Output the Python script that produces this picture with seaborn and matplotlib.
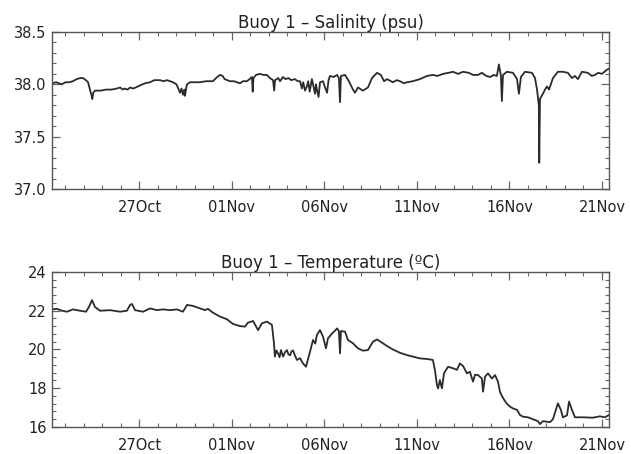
import numpy as np
import pandas as pd
import matplotlib
matplotlib.use("Agg")
import matplotlib.pyplot as plt
import matplotlib.dates as mdates
from matplotlib.ticker import MultipleLocator, FormatStrFormatter
import seaborn as sns

# ---- data: (days since 22 Oct 00:00, value) ----
salinity_points = [
    (0.27, 38.01), (0.5, 38.02), (0.8, 38.00), (1.0, 38.02), (1.2, 38.02), (1.4, 38.03),
    (1.6, 38.05), (1.8, 38.06), (1.95, 38.06), (2.1, 38.04), (2.22, 38.02), (2.32, 37.95),
    (2.40, 37.90), (2.45, 37.86), (2.50, 37.92), (2.60, 37.94), (2.9, 37.94), (3.2, 37.95),
    (3.5, 37.95), (3.78, 37.96), (3.95, 37.97), (4.1, 37.95), (4.2, 37.96), (4.35, 37.95),
    (4.5, 37.97), (4.65, 37.96), (4.8, 37.97), (5.03, 37.99), (5.3, 38.01), (5.57, 38.02),
    (5.8, 38.04), (6.11, 38.04), (6.3, 38.03), (6.49, 38.04), (6.81, 38.02), (7.0, 38.00),
    (7.19, 37.92), (7.27, 37.96), (7.35, 37.90), (7.42, 37.95), (7.46, 37.89), (7.52, 37.96),
    (7.57, 38.00), (7.73, 38.02), (8.0, 38.02), (8.27, 38.02), (8.6, 38.03), (8.97, 38.03),
    (9.2, 38.07), (9.35, 38.09), (9.5, 38.08), (9.6, 38.05), (9.89, 38.03), (10.1, 38.03),
    (10.43, 38.01), (10.6, 38.03), (10.81, 38.03), (10.95, 38.05), (11.08, 38.07), (11.12, 37.93),
    (11.16, 38.06), (11.3, 38.09), (11.51, 38.10), (11.7, 38.09), (11.89, 38.09), (12.05, 38.06),
    (12.22, 38.04), (12.28, 37.94), (12.33, 38.04), (12.5, 38.06), (12.6, 38.03), (12.75, 38.07),
    (12.9, 38.05), (13.05, 38.06), (13.2, 38.04), (13.4, 38.05), (13.55, 38.03), (13.68, 38.03),
    (13.78, 37.96), (13.85, 38.02), (13.95, 37.94), (14.05, 37.98), (14.12, 38.03), (14.2, 37.93),
    (14.32, 38.05), (14.42, 37.97), (14.49, 37.91), (14.54, 38.00), (14.59, 37.95), (14.68, 37.88),
    (14.76, 38.02), (14.92, 38.03), (15.03, 37.97), (15.14, 37.92), (15.22, 38.04), (15.30, 38.08),
    (15.5, 38.07), (15.68, 38.09), (15.78, 38.06), (15.84, 37.83), (15.89, 38.08), (16.11, 38.09),
    (16.32, 38.03), (16.54, 37.95), (16.65, 37.92), (16.81, 37.97), (17.08, 37.94), (17.35, 37.97),
    (17.57, 38.06), (17.84, 38.11), (18.05, 38.09), (18.22, 38.03), (18.38, 38.05), (18.70, 38.02),
    (18.9, 38.04), (19.08, 38.03), (19.3, 38.01), (19.46, 38.02), (19.78, 38.03), (20.16, 38.05),
    (20.54, 38.08), (20.86, 38.09), (21.1, 38.08), (21.41, 38.10), (21.7, 38.11), (21.95, 38.12),
    (22.22, 38.10), (22.49, 38.12), (22.8, 38.11), (23.03, 38.09), (23.3, 38.09), (23.51, 38.11),
    (23.75, 38.08), (23.95, 38.07), (24.15, 38.09), (24.32, 38.08), (24.43, 38.19), (24.54, 38.08),
    (24.59, 37.84), (24.65, 38.09), (24.86, 38.12), (25.19, 38.11), (25.41, 38.05), (25.51, 37.91),
    (25.62, 38.07), (25.84, 38.12), (26.22, 38.11), (26.38, 38.06), (26.49, 37.95), (26.59, 37.80),
    (26.61, 37.25), (26.65, 37.86), (26.81, 37.91), (26.92, 37.95), (27.03, 37.98), (27.14, 37.95),
    (27.35, 38.06), (27.62, 38.12), (27.89, 38.12), (28.16, 38.11), (28.38, 38.06), (28.54, 38.08),
    (28.70, 38.05), (28.92, 38.12), (29.24, 38.11), (29.45, 38.08), (29.62, 38.09), (29.8, 38.11),
    (30.00, 38.10), (30.27, 38.14), (30.38, 38.15),
]

temperature_points = [
    (0.27, 22.07), (0.54, 22.10), (0.81, 22.00), (1.08, 21.95), (1.41, 22.07), (1.78, 22.00),
    (2.11, 21.95), (2.27, 22.20), (2.43, 22.55), (2.59, 22.20), (2.86, 22.00), (3.41, 22.03),
    (3.95, 21.95), (4.32, 22.00), (4.49, 22.30), (4.59, 22.35), (4.76, 22.03), (5.19, 21.95),
    (5.57, 22.12), (5.95, 22.03), (6.27, 22.07), (6.65, 22.03), (7.03, 22.07), (7.35, 21.95),
    (7.57, 22.30), (7.89, 22.25), (8.27, 22.12), (8.54, 22.03), (8.70, 22.10), (8.97, 21.90),
    (9.35, 21.70), (9.73, 21.56), (9.89, 21.44), (10.05, 21.32), (10.43, 21.21), (10.70, 21.18),
    (10.86, 21.38), (11.14, 21.47), (11.41, 21.00), (11.62, 21.35), (11.89, 21.44), (12.16, 21.27),
    (12.27, 20.32), (12.32, 19.63), (12.40, 19.95), (12.49, 19.80), (12.57, 19.60), (12.65, 19.97),
    (12.76, 19.63), (12.86, 19.85), (12.97, 19.97), (13.05, 19.75), (13.14, 19.70), (13.22, 19.90),
    (13.30, 19.95), (13.40, 19.70), (13.51, 19.46), (13.68, 19.55), (13.84, 19.28), (14.00, 19.11),
    (14.11, 19.50), (14.22, 19.89), (14.38, 20.49), (14.50, 20.30), (14.59, 20.75), (14.76, 21.00),
    (14.92, 20.66), (15.08, 20.06), (15.19, 20.58), (15.30, 20.70), (15.41, 20.83), (15.57, 20.97),
    (15.68, 21.09), (15.78, 20.95), (15.84, 19.80), (15.89, 20.95), (16.11, 20.92), (16.27, 20.49),
    (16.54, 20.32), (16.81, 20.06), (17.08, 19.94), (17.35, 19.97), (17.62, 20.40), (17.84, 20.52),
    (18.11, 20.35), (18.38, 20.18), (18.70, 20.00), (19.08, 19.83), (19.46, 19.71), (19.78, 19.63),
    (20.16, 19.54), (20.54, 19.51), (20.86, 19.46), (20.97, 18.94), (21.08, 18.17), (21.14, 17.99),
    (21.24, 18.42), (21.35, 17.99), (21.46, 18.77), (21.68, 19.11), (21.95, 19.03), (22.16, 18.95),
    (22.32, 19.28), (22.49, 19.15), (22.70, 18.77), (22.86, 18.85), (23.03, 18.34), (23.14, 18.70),
    (23.30, 18.68), (23.51, 18.50), (23.57, 17.82), (23.68, 18.60), (23.84, 18.77), (24.05, 18.50),
    (24.22, 18.68), (24.38, 18.34), (24.49, 17.80), (24.65, 17.50), (24.75, 17.35), (24.86, 17.20),
    (25.03, 17.05), (25.19, 16.96), (25.41, 16.88), (25.57, 16.62), (25.73, 16.53), (26.00, 16.50),
    (26.27, 16.40), (26.54, 16.30), (26.65, 16.15), (26.81, 16.30), (27.19, 16.25), (27.35, 16.40),
    (27.51, 16.88), (27.62, 17.22), (27.78, 16.88), (27.89, 16.50), (28.11, 16.60), (28.22, 17.31),
    (28.38, 16.88), (28.54, 16.50), (28.97, 16.50), (29.51, 16.48), (29.89, 16.55), (30.16, 16.50),
    (30.38, 16.62),
]

tick_dates = ["1998-10-27", "1998-11-01", "1998-11-06", "1998-11-11", "1998-11-16", "1998-11-21"]
titles = ["Buoy 1 \u2013 Salinity (psu)", "Buoy 1 \u2013 Temperature (\u00baC)"]

base = pd.Timestamp("1998-10-22")


def to_frame(points):
    days = [p[0] for p in points]
    vals = [p[1] for p in points]
    return pd.DataFrame({"time": base + pd.to_timedelta(days, unit="D"), "value": vals})


sal_df = to_frame(salinity_points)
temp_df = to_frame(temperature_points)

sns.set_style("ticks")
plt.rcParams["font.family"] = ["DejaVu Sans"]

fig = plt.figure(figsize=(6.31, 4.54), dpi=100)
ax1 = fig.add_axes([0.0824, 0.5837, 0.8827, 0.3458])
ax2 = fig.add_axes([0.0824, 0.0595, 0.8827, 0.3414])

line_color = "#2b2b2b"
xmin = base + pd.Timedelta(days=0.27)
xmax = base + pd.Timedelta(days=30.38)

for ax, df, title, ylim, major, minor in [
    (ax1, sal_df, titles[0], (37.0, 38.5), 0.5, 0.1),
    (ax2, temp_df, titles[1], (16, 24), 2, 0.4),
]:
    sns.lineplot(data=df, x="time", y="value", ax=ax, color=line_color, linewidth=1.3)
    ax.set_xlim(xmin, xmax)
    ax.set_ylim(*ylim)
    ax.set_xlabel("")
    ax.set_ylabel("")
    ax.set_title(title, fontsize=12, color="#222222", pad=3)
    ax.set_xticks(pd.to_datetime(tick_dates))
    ax.xaxis.set_major_formatter(mdates.DateFormatter("%d%b"))
    ax.xaxis.set_minor_locator(mdates.DayLocator())
    ax.yaxis.set_major_locator(MultipleLocator(major))
    ax.yaxis.set_minor_locator(MultipleLocator(minor))
    ax.tick_params(which="both", direction="in", top=True, right=True, colors="#666666",
                   labelcolor="#222222", labelsize=10.5)
    ax.tick_params(which="major", length=6, width=0.9)
    ax.tick_params(which="minor", length=3, width=0.8)
    ax.tick_params(axis="x", pad=8)
    ax.tick_params(axis="y", pad=4)
    for s in ax.spines.values():
        s.set_color("#555555")
        s.set_linewidth(1.0)

ax1.yaxis.set_major_formatter(FormatStrFormatter("%.1f"))

fig.savefig("out.png", dpi=100)
